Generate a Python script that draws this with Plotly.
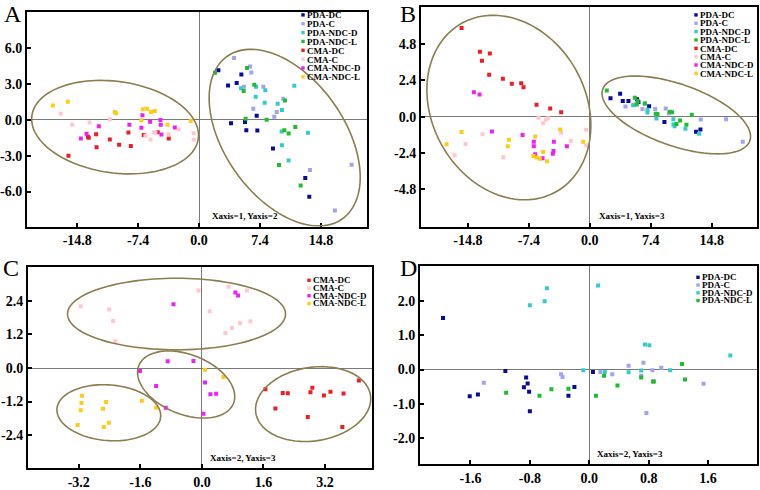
import numpy as np
import plotly.graph_objects as go

W, H = 760, 490

GROUPS = ["PDA-DC", "PDA-C", "PDA-NDC-D", "PDA-NDC-L", "CMA-DC", "CMA-C", "CMA-NDC-D", "CMA-NDC-L"]
COLORS = {
    "PDA-DC": "#0a0a9a", "PDA-C": "#a3a3ee", "PDA-NDC-D": "#33cccc", "PDA-NDC-L": "#22bb33",
    "CMA-DC": "#ee1c24", "CMA-C": "#ffc8d0", "CMA-NDC-D": "#ee22ee", "CMA-NDC-L": "#ffcc11",
}

# ---------------- Panel A (Xaxis=1, Yaxis=2) ----------------
A_PDA_DC_X = [2.35, 3.52, 4.57, 5.14, 7.0, 3.88, 5.58, 5.74, 7.08, 8.98, 12.9, 13.39]
A_PDA_DC_Y = [4.17, 2.89, 3.11, 3.81, 0.36, -0.28, -0.16, -0.86, -0.89, -2.39, -4.86, -6.44]
A_PDA_C_X = [4.25, 6.19, 6.35, 5.46, 7.81, 6.59, 9.43, 9.14, 10.23, 13.47, 18.53, 16.5]
A_PDA_C_Y = [5.2, 4.48, 3.98, 2.78, 2.78, 0.95, 0.67, 0.28, 1.78, -4.19, -3.75, -7.58]
A_PDA_NDCD_X = [5.1, 6.92, 8.05, 6.88, 7.97, 9.55, 10.07, 11.57, 10.03, 13.23, 10.07, 10.88]
A_PDA_NDCD_Y = [2.67, 2.78, 2.5, 1.95, 1.45, 1.36, 0.84, 2.86, -0.97, -1.08, -2.11, -3.39]
A_PDA_NDCL_X = [1.94, 5.83, 6.71, 5.42, 10.44, 5.66, 8.21, 10.36, 10.88, 11.69, 9.71, 12.34]
A_PDA_NDCL_Y = [3.95, 4.36, 2.95, 2.42, 1.64, 0.11, 0.03, -0.86, -1.14, -0.58, -3.78, -5.5]
A_CMA_DC_X = [-15.86, -13.5, -13.4, -12.5, -12.45, -10.84, -9.71, -8.58, -8.29, -6.72, -5.02, -3.68]
A_CMA_DC_Y = [-3.0, -1.41, -1.5, -1.2, -2.28, -1.64, -2.08, -1.05, -2.19, -1.25, -1.03, -1.55]
A_CMA_C_X = [-16.8, -15.4, -13.3, -10.84, -6.51, -5.9, -5.5, -5.3, -3.72, -2.47, -0.65, -0.65]
A_CMA_C_Y = [0.53, -0.39, -0.22, 0.06, -1.33, -1.64, -1.05, -1.05, -1.22, -0.8, -1.11, -1.66]
A_CMA_NDCD_X = [-14.36, -13.67, -12.18, -8.46, -7.0, -6.88, -5.95, -4.69, -4.65, -4.57, -2.95]
A_CMA_NDCD_Y = [-1.55, -1.16, -0.53, -0.39, -0.66, 0.39, -0.14, 0.0, -0.39, -1.22, -0.64]
A_CMA_NDCL_X = [-17.76, -15.94, -10.23, -10.07, -6.84, -6.31, -5.83, -5.38, -7.0, -3.84, -1.01]
A_CMA_NDCL_Y = [1.22, 1.53, 0.67, 0.56, 0.89, 0.95, 0.67, 0.75, -0.03, -0.39, -0.08]

# ---------------- Panel B (Xaxis=1, Yaxis=3) ----------------
B_PDA_DC_X = [2.51, 3.68, 4.0, 4.69, 5.74, 5.9, 7.2, 9.06, 12.9, 13.43]
B_PDA_DC_Y = [1.23, 1.53, 1.05, 1.05, 1.16, 0.98, 0.7, -0.35, -0.99, -0.84]
B_PDA_C_X = [4.33, 5.34, 6.39, 6.7, 7.93, 9.22, 9.6, 13.47, 16.55, 18.57]
B_PDA_C_Y = [0.68, 0.79, 0.52, 0.88, 0.52, 0.55, 0.24, -0.18, -0.16, -1.65]
B_PDA_NDCD_X = [5.26, 7.0, 7.0, 8.09, 10.15, 10.15, 10.3, 11.61, 13.27]
B_PDA_NDCD_Y = [0.77, 0.46, 0.28, -0.11, -0.16, -0.51, -0.62, -0.79, -1.12]
B_PDA_NDCL_X = [2.06, 5.46, 5.8, 5.7, 6.67, 8.0, 8.21, 9.71, 10.0, 10.96, 10.52, 11.73, 12.38]
B_PDA_NDCL_Y = [1.73, 1.25, 1.05, 0.81, 0.88, 0.2, 0.18, 0.33, 0.3, -0.24, -0.48, -0.53, 0.13]
B_CMA_DC_X = [-15.57, -13.35, -12.14, -13.1, -12.22, -10.56, -9.47, -8.33, -8.05, -6.47, -4.81, -3.48]
B_CMA_DC_Y = [5.87, 4.3, 4.19, 3.7, 2.78, 2.52, 2.19, 2.21, 1.95, 0.79, 0.55, 0.3]
B_CMA_C_X = [-16.42, -15.09, -13.03, -10.52, -6.23, -5.66, -5.34, -5.06, -3.48, -2.31, -0.45, -0.45]
B_CMA_C_Y = [-2.55, -1.8, -1.16, -2.68, -0.07, -0.42, -0.2, -0.1, -1.05, -1.6, -0.86, -1.89]
B_CMA_NDCD_X = [-14.08, -13.39, -11.89, -8.17, -6.8, -6.8, -6.63, -5.74, -4.37, -4.41, -4.49, -2.79]
B_CMA_NDCD_Y = [1.62, 1.47, -0.97, -1.21, -1.65, -1.95, -2.48, -2.74, -1.65, -2.26, -2.44, -1.95]
B_CMA_NDCL_X = [-17.39, -15.57, -9.83, -9.95, -6.63, -6.84, -6.47, -6.07, -5.66, -5.18, -3.6, -0.81]
B_CMA_NDCL_Y = [-1.82, -1.01, -1.52, -1.95, -1.3, -2.59, -2.69, -2.77, -2.33, -2.94, -0.84, -1.65]

# ---------------- Panel C (CMA, Xaxis=2, Yaxis=3) ----------------
C_CMA_DC_X = [1.65, 1.91, 2.1, 2.23, 2.75, 2.82, 2.87, 3.17, 3.34, 3.65, 3.68, 4.08]
C_CMA_DC_Y = [-0.76, -1.45, -0.89, -0.9, -1.75, -0.87, -0.71, -0.98, -0.85, -2.11, -0.91, -0.45]
C_CMA_C_X = [-3.15, -2.41, -2.31, -2.25, -0.09, 0.2, 0.69, 0.61, 0.78, 0.99, 1.17, 1.26]
C_CMA_C_Y = [2.21, 2.09, 1.68, 0.96, 2.77, 2.03, 2.91, 1.25, 1.43, 1.6, 2.77, 1.67]
C_CMA_NDCD_X = [-0.74, 0.87, 0.94, -0.89, -0.22, -1.61, -1.19, 0.08, 0.22, 0.37, -0.94, 0.04]
C_CMA_NDCD_Y = [2.28, 2.7, 2.59, 0.24, 0.25, -0.11, -0.64, -0.52, -0.94, -0.92, -1.42, -1.64]
C_CMA_NDCL_X = [-3.12, -3.13, -3.15, -3.23, -2.49, -2.57, -2.42, -2.55, -1.56, -1.19, 0.08, 0.56]
C_CMA_NDCL_Y = [-0.99, -1.25, -1.51, -2.04, -1.22, -1.46, -1.96, -2.11, -1.17, -1.42, -0.06, -0.32]

# ---------------- Panel D (PDA, Xaxis=2, Yaxis=3) ----------------
D_PDA_DC_X = [-1.97, -1.61, -1.5, -1.13, -0.85, -0.83, -0.88, -0.81, -0.8, -0.28, -0.2, 0.05]
D_PDA_DC_Y = [1.51, -0.78, -0.73, -0.04, -0.23, -0.41, -0.52, -0.65, -1.22, -0.77, -0.51, -0.07]
D_PDA_C_X = [-1.42, -0.38, -0.36, 0.15, 0.31, 0.53, 0.7, 0.73, 0.77, 0.85, 0.97, 1.54]
D_PDA_C_Y = [-0.39, -0.14, -0.22, -0.07, -0.14, 0.11, -0.18, 0.2, -1.27, -0.02, 0.05, -0.42]
D_PDA_NDCD_X = [-0.8, -0.6, -0.57, 0.12, -0.08, 0.21, 0.53, 0.7, 0.75, 0.81, 1.09, 1.9]
D_PDA_NDCD_Y = [1.88, 2.0, 2.38, 2.46, -0.02, -0.07, -0.08, -0.03, 0.73, 0.71, -0.02, 0.41]
D_PDA_NDCL_X = [-1.12, -0.67, -0.51, -0.28, 0.09, 0.2, 0.38, 0.7, 0.86, 0.87, 1.25, 1.29]
D_PDA_NDCL_Y = [-0.68, -0.77, -0.58, -0.56, -0.77, -0.18, -0.47, -0.23, -0.35, -0.35, 0.16, -0.29]

# tick values
A_XTICKS = [-14.8, -7.4, 0.0, 7.4, 14.8]
A_YTICKS = [-6.0, -3.0, 0.0, 3.0, 6.0]
B_XTICKS = [-14.8, -7.4, 0.0, 7.4, 14.8]
B_YTICKS = [-4.8, -2.4, 0.0, 2.4, 4.8]
C_XTICKS = [-3.2, -1.6, 0.0, 1.6, 3.2]
C_YTICKS = [-2.4, -1.2, 0.0, 1.2, 2.4]
D_XTICKS = [-1.6, -0.8, 0.0, 0.8, 1.6]
D_YTICKS = [-2.0, -1.0, 0.0, 1.0, 2.0]

PANELS = [
    dict(label="A", caption="Xaxis=1, Yaxis=2", names=GROUPS,
         series=[(A_PDA_DC_X, A_PDA_DC_Y), (A_PDA_C_X, A_PDA_C_Y), (A_PDA_NDCD_X, A_PDA_NDCD_Y),
                 (A_PDA_NDCL_X, A_PDA_NDCL_Y), (A_CMA_DC_X, A_CMA_DC_Y), (A_CMA_C_X, A_CMA_C_Y),
                 (A_CMA_NDCD_X, A_CMA_NDCD_Y), (A_CMA_NDCL_X, A_CMA_NDCL_Y)],
         xt=A_XTICKS, yt=A_YTICKS),
    dict(label="B", caption="Xaxis=1, Yaxis=3", names=GROUPS,
         series=[(B_PDA_DC_X, B_PDA_DC_Y), (B_PDA_C_X, B_PDA_C_Y), (B_PDA_NDCD_X, B_PDA_NDCD_Y),
                 (B_PDA_NDCL_X, B_PDA_NDCL_Y), (B_CMA_DC_X, B_CMA_DC_Y), (B_CMA_C_X, B_CMA_C_Y),
                 (B_CMA_NDCD_X, B_CMA_NDCD_Y), (B_CMA_NDCL_X, B_CMA_NDCL_Y)],
         xt=B_XTICKS, yt=B_YTICKS),
    dict(label="C", caption="Xaxis=2, Yaxis=3", names=GROUPS[4:],
         series=[(C_CMA_DC_X, C_CMA_DC_Y), (C_CMA_C_X, C_CMA_C_Y),
                 (C_CMA_NDCD_X, C_CMA_NDCD_Y), (C_CMA_NDCL_X, C_CMA_NDCL_Y)],
         xt=C_XTICKS, yt=C_YTICKS),
    dict(label="D", caption="Xaxis=2, Yaxis=3", names=GROUPS[:4],
         series=[(D_PDA_DC_X, D_PDA_DC_Y), (D_PDA_C_X, D_PDA_C_Y),
                 (D_PDA_NDCD_X, D_PDA_NDCD_Y), (D_PDA_NDCL_X, D_PDA_NDCL_Y)],
         xt=D_XTICKS, yt=D_YTICKS),
]

# ---- layout geometry (pixels) ----
GEOM = {
    "A": dict(px=(27, 367), py=(12, 228), xr=(-20.9, 20.4), yr=(-8.94, 9.06),
              lab=(2, -1), cap=(210, 217), leg=(303, 15, 8.9)),
    "B": dict(px=(421, 757), py=(7, 228), xr=(-20.5, 20.3), yr=(-7.26, 7.26),
              lab=(398, -1), cap=(597, 217), leg=(696, 15, 8.4)),
    "C": dict(px=(28, 372), py=(269, 471), xr=(-4.52, 4.42), yr=(-3.58, 3.6),
              lab=(1, 255), cap=(208, 461), leg=(309, 282, 7.8)),
    "D": dict(px=(420, 757), py=(268, 467), xr=(-2.28, 2.26), yr=(-2.77, 3.02),
              lab=(398, 255), cap=(595, 457), leg=(698, 279, 7.8)),
}
# ellipses: (center x, center y) in data units, semi-axes in px, tilt (deg)
ELLIPSES = {
    "A": [((-10.2, -0.6), 84, 46, -8), ((10.4, -1.48), 100, 60, -55)],
    "B": [((-9.83, 0.61), 97, 77, -61.5), ((10.5, 0.12), 78, 31, -19.5)],
    "C": [((-0.66, 1.93), 109, 36, 0), ((-0.41, -0.59), 51, 30, -22),
          ((-2.42, -1.6), 52, 28, -4.5), ((2.89, -1.29), 58, 37, 9)],
    "D": [],
}

SERIF = "Liberation Serif"
ELL_COLOR = "#8a7d4e"

fig = go.Figure()
layout = dict(width=W, height=H, margin=dict(l=0, r=0, t=0, b=0),
              paper_bgcolor="white", plot_bgcolor="white", showlegend=False)
shapes, annotations = [], []

for i, p in enumerate(PANELS):
    g = GEOM[p["label"]]
    n = "" if i == 0 else str(i + 1)
    xa, ya = "x" + n, "y" + n
    for name, (xs, ys) in zip(p["names"], p["series"]):
        fig.add_trace(go.Scatter(x=xs, y=ys, mode="markers", name=name, xaxis=xa, yaxis=ya,
                                 marker=dict(symbol="square", size=4, color=COLORS[name],
                                             line=dict(width=0))))
    axis_common = dict(showgrid=False, zeroline=True, zerolinecolor="#7a7a7a", zerolinewidth=1,
                       showline=True, mirror=True, linecolor="black", linewidth=2,
                       ticks="inside", ticklen=4, tickwidth=1.5, tickcolor="black",
                       tickfont=dict(family=SERIF, size=14, color="black", weight="bold"))
    layout["xaxis" + n] = dict(axis_common, domain=[g["px"][0] / W, g["px"][1] / W],
                               range=list(g["xr"]), anchor=ya, tickvals=p["xt"],
                               ticktext=[f"{v:.1f}" for v in p["xt"]])
    layout["yaxis" + n] = dict(axis_common, domain=[1 - g["py"][1] / H, 1 - g["py"][0] / H],
                               range=list(g["yr"]), anchor=xa, tickvals=p["yt"],
                               ticktext=[f"{v:.1f}" for v in p["yt"]])
    sx = (g["px"][1] - g["px"][0]) / (g["xr"][1] - g["xr"][0])
    sy = (g["py"][1] - g["py"][0]) / (g["yr"][1] - g["yr"][0])
    t = np.linspace(0, 2 * np.pi, 121)
    for (cx, cy), a, b, ang in ELLIPSES[p["label"]]:
        ph = np.deg2rad(ang)
        ex = cx + (a * np.cos(t) * np.cos(ph) - b * np.sin(t) * np.sin(ph)) / sx
        ey = cy + (a * np.cos(t) * np.sin(ph) + b * np.sin(t) * np.cos(ph)) / sy
        path = "M " + " L ".join(f"{u:.4f},{v:.4f}" for u, v in zip(ex, ey)) + " Z"
        shapes.append(dict(type="path", path=path, xref=xa, yref=ya,
                           line=dict(color=ELL_COLOR, width=1.6)))
    # panel label
    annotations.append(dict(text=p["label"], x=g["lab"][0] / W, y=1 - g["lab"][1] / H,
                            xref="paper", yref="paper", xanchor="left", yanchor="top",
                            showarrow=False, font=dict(family=SERIF, size=24, color="black")))
    # caption
    annotations.append(dict(text=p["caption"], x=g["cap"][0] / W, y=1 - g["cap"][1] / H,
                            xref="paper", yref="paper", xanchor="left", yanchor="middle",
                            showarrow=False,
                            font=dict(family=SERIF, size=9, color="black", weight="bold")))
    # manual legend: colored squares + one multi-line text block
    mx, my0, dy = g["leg"]
    for k, name in enumerate(p["names"]):
        yy = my0 + k * dy
        shapes.append(dict(type="rect", xref="paper", yref="paper",
                           x0=(mx - 1.7) / W, x1=(mx + 1.7) / W,
                           y0=1 - (yy + 1.7) / H, y1=1 - (yy - 1.7) / H,
                           fillcolor=COLORS[name], line=dict(width=0)))
    block = "<br>".join(f"<span style='font-size:9px'>{nm}</span>" for nm in p["names"])
    yc = my0 + (len(p["names"]) - 1) * dy / 2
    annotations.append(dict(text=block, x=(mx + 3) / W, y=1 - yc / H, xref="paper",
                            yref="paper", xanchor="left", yanchor="middle", showarrow=False,
                            align="left", borderpad=0,
                            font=dict(family=SERIF, size=dy / 1.3, color="black",
                                      weight="bold")))

layout["shapes"] = shapes
layout["annotations"] = annotations
fig.update_layout(**layout)
fig.write_html("out.html", config={"displayModeBar": False},
               post_script="document.body.style.margin='0';document.body.style.overflow='hidden';")
